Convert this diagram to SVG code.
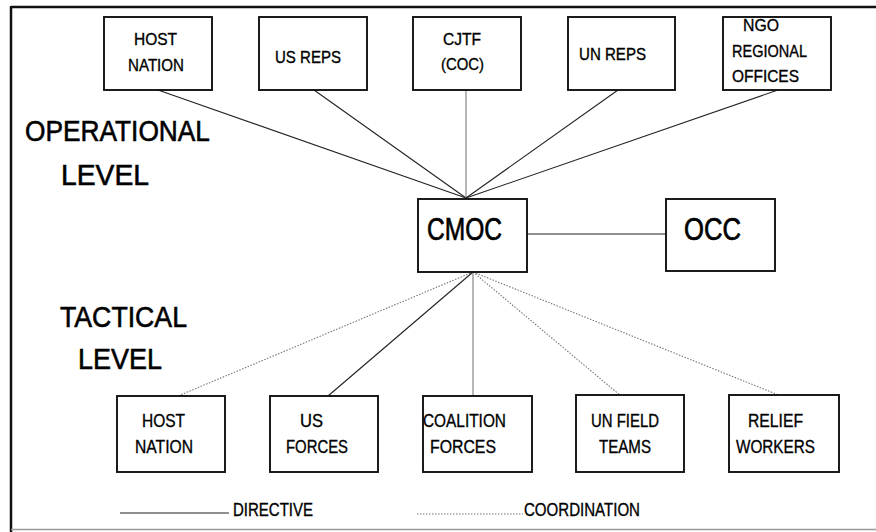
<svg xmlns="http://www.w3.org/2000/svg" width="876" height="532" viewBox="0 0 876 532">
<style>
  .box { fill: #fff; stroke: #111; stroke-width: 1.9; }
  .t { font-family: "Liberation Sans", Arial, sans-serif; fill: #000; stroke: #000; stroke-width: 0.35; text-anchor: start; }
  .s17 { font-size: 17px; }
  .s18 { font-size: 18.5px; }
  .big { font-size: 32px; stroke-width: 0.7; }
  .lvl { font-size: 30px; stroke-width: 0.6; }
  .dir { stroke: #222; stroke-width: 1.1; fill: none; }
  .gray { stroke: #888; stroke-width: 1.2; fill: none; }
  .coord { stroke: #777; stroke-width: 1.1; stroke-dasharray: 1.5 1.5; fill: none; }
</style>
<rect width="876" height="532" fill="#fff"/>
<g id="frame">
  <line x1="11" y1="7" x2="876" y2="7" stroke="#111" stroke-width="2.5"/>
  <line x1="11" y1="6" x2="11" y2="532" stroke="#111" stroke-width="2.5"/>
  <line x1="11" y1="529.5" x2="876" y2="529.5" stroke="#999" stroke-width="1.5"/>
</g>
<g id="connectors">
  <line class="dir" x1="158" y1="90" x2="466" y2="198"/>
  <line class="dir" x1="314" y1="90" x2="466" y2="198"/>
  <line class="gray" x1="466" y1="90" x2="466" y2="198"/>
  <line class="dir" x1="618" y1="90" x2="466" y2="198"/>
  <line class="dir" x1="778" y1="90" x2="466" y2="198"/>
  <line class="dir" x1="527" y1="234" x2="666" y2="234"/>
  <line class="coord" x1="473" y1="272" x2="178" y2="396"/>
  <line class="dir" x1="473" y1="272" x2="328" y2="396"/>
  <line class="gray" x1="473" y1="272" x2="473" y2="396"/>
  <line class="coord" x1="473" y1="272" x2="621" y2="396"/>
  <line class="coord" x1="473" y1="272" x2="781" y2="396"/>
</g>
<g id="levels">
  <text class="t lvl" x="25" y="141" textLength="185" lengthAdjust="spacingAndGlyphs">OPERATIONAL</text>
  <text class="t lvl" x="61" y="185" textLength="88" lengthAdjust="spacingAndGlyphs">LEVEL</text>
  <text class="t lvl" x="60" y="327" textLength="127" lengthAdjust="spacingAndGlyphs">TACTICAL</text>
  <text class="t lvl" x="78" y="369" textLength="84" lengthAdjust="spacingAndGlyphs">LEVEL</text>
</g>
<g id="host-nation-op">
  <rect class="box" x="104" y="17" width="108" height="73"/>
  <text class="t s17" x="134" y="45" textLength="43" lengthAdjust="spacingAndGlyphs">HOST</text>
  <text class="t s17" x="128" y="71" textLength="56" lengthAdjust="spacingAndGlyphs">NATION</text>
</g>
<g id="us-reps">
  <rect class="box" x="259" y="17" width="108" height="73"/>
  <text class="t s17" x="275" y="63" textLength="66" lengthAdjust="spacingAndGlyphs">US REPS</text>
</g>
<g id="cjtf">
  <rect class="box" x="413" y="17" width="108" height="73"/>
  <text class="t s17" x="443" y="45" textLength="38" lengthAdjust="spacingAndGlyphs">CJTF</text>
  <text class="t s17" x="441" y="70" textLength="43" lengthAdjust="spacingAndGlyphs">(COC)</text>
</g>
<g id="un-reps">
  <rect class="box" x="568" y="17" width="107" height="73"/>
  <text class="t s17" x="579" y="60" textLength="67" lengthAdjust="spacingAndGlyphs">UN REPS</text>
</g>
<g id="ngo">
  <rect class="box" x="723" y="17" width="108" height="73"/>
  <text class="t s17" x="743" y="31" textLength="36" lengthAdjust="spacingAndGlyphs">NGO</text>
  <text class="t s17" x="732" y="57" textLength="75" lengthAdjust="spacingAndGlyphs">REGIONAL</text>
  <text class="t s17" x="732" y="82" textLength="67" lengthAdjust="spacingAndGlyphs">OFFICES</text>
</g>
<g id="cmoc">
  <rect class="box" x="418" y="199" width="109" height="73"/>
  <text class="t big" x="427" y="240" textLength="75" lengthAdjust="spacingAndGlyphs">CMOC</text>
</g>
<g id="occ">
  <rect class="box" x="666" y="199" width="109" height="72"/>
  <text class="t big" x="684" y="240" textLength="57" lengthAdjust="spacingAndGlyphs">OCC</text>
</g>
<g id="host-nation-tac">
  <rect class="box" x="117" y="396" width="108" height="76"/>
  <text class="t s18" x="142" y="427" textLength="43" lengthAdjust="spacingAndGlyphs">HOST</text>
  <text class="t s18" x="135" y="453" textLength="58" lengthAdjust="spacingAndGlyphs">NATION</text>
</g>
<g id="us-forces">
  <rect class="box" x="270" y="396" width="108" height="76"/>
  <text class="t s18" x="300" y="427" textLength="23" lengthAdjust="spacingAndGlyphs">US</text>
  <text class="t s18" x="286" y="453" textLength="62" lengthAdjust="spacingAndGlyphs">FORCES</text>
</g>
<g id="coalition-forces">
  <rect class="box" x="423" y="396" width="109" height="76"/>
  <text class="t s18" x="423" y="427" textLength="83" lengthAdjust="spacingAndGlyphs">COALITION</text>
  <text class="t s18" x="430" y="453" textLength="66" lengthAdjust="spacingAndGlyphs">FORCES</text>
</g>
<g id="un-field-teams">
  <rect class="box" x="576" y="395" width="108" height="77"/>
  <text class="t s18" x="591" y="427" textLength="68" lengthAdjust="spacingAndGlyphs">UN FIELD</text>
  <text class="t s18" x="599" y="453" textLength="52" lengthAdjust="spacingAndGlyphs">TEAMS</text>
</g>
<g id="relief-workers">
  <rect class="box" x="729" y="395" width="110" height="77"/>
  <text class="t s18" x="748" y="427" textLength="55" lengthAdjust="spacingAndGlyphs">RELIEF</text>
  <text class="t s18" x="736" y="453" textLength="79" lengthAdjust="spacingAndGlyphs">WORKERS</text>
</g>
<g id="legend">
  <line class="dir" x1="120" y1="513" x2="229" y2="513"/>
  <text class="t" font-size="18" x="233" y="516" textLength="80" lengthAdjust="spacingAndGlyphs">DIRECTIVE</text>
  <line class="coord" x1="417" y1="514" x2="523" y2="514"/>
  <text class="t" font-size="18" x="524" y="516" textLength="116" lengthAdjust="spacingAndGlyphs">COORDINATION</text>
</g>
</svg>
